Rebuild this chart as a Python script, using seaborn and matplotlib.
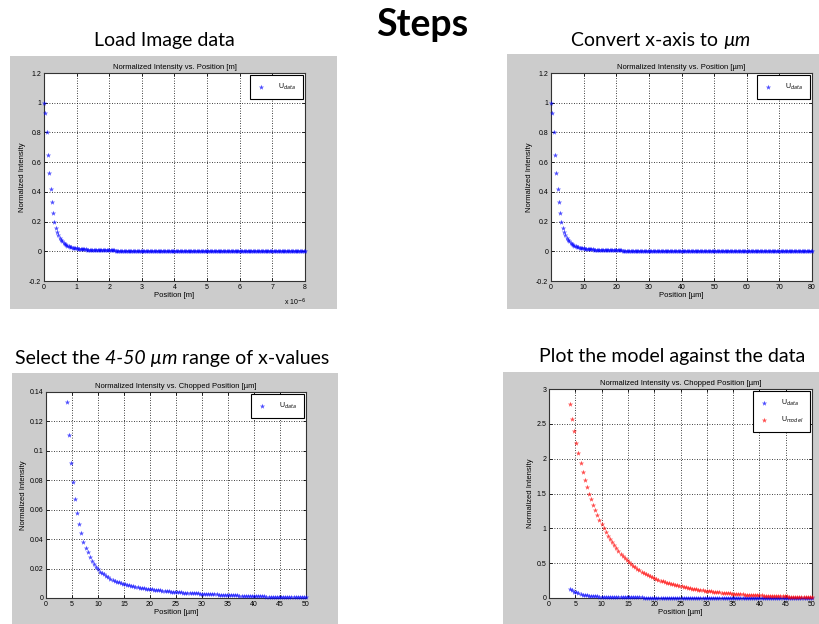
import numpy as np
import matplotlib
matplotlib.use("Agg")
import matplotlib.pyplot as plt
import seaborn as sns

# measured intensity, sampled every 0.4 um from 0 to 80 um
pos_um = np.linspace(0, 80, 201)
u_data = np.array([
    1.000, 0.930, 0.800, 0.650, 0.530, 0.420, 0.330, 0.260, 0.200, 0.160,
    0.133, 0.111, 0.092, 0.079, 0.067, 0.058, 0.050, 0.044, 0.038, 0.034,
    0.031, 0.028, 0.025, 0.023, 0.021, 0.020, 0.018, 0.017, 0.016, 0.015,
    0.0140, 0.0132, 0.0125, 0.0118, 0.0112, 0.0106, 0.0101, 0.0097, 0.0092, 0.0088,
    0.0085, 0.0082, 0.0079, 0.0076, 0.0073, 0.0071, 0.0068, 0.0066, 0.0064, 0.0062,
    0.0060, 0.0058, 0.0056, 0.0055, 0.0053, 0.0051, 0.0050, 0.0048, 0.0047, 0.0045,
    0.0044, 0.0043, 0.0042, 0.0040, 0.0039, 0.0038, 0.0037, 0.0036, 0.0035, 0.0034,
    0.0033, 0.0032, 0.0031, 0.0031, 0.0030, 0.0029, 0.0028, 0.0027, 0.0027, 0.0026,
    0.0025, 0.0026, 0.0024, 0.0023, 0.0022, 0.0022, 0.0021, 0.0020, 0.0020, 0.0019,
    0.0018, 0.0018, 0.0017, 0.0016, 0.0016, 0.0015, 0.0015, 0.0014, 0.0014, 0.0013,
    0.0013, 0.0012, 0.0012, 0.0011, 0.0011, 0.0011, 0.0010, 0.0010, 0.0009, 0.0009,
    0.0009, 0.0008, 0.0008, 0.0008, 0.0007, 0.0007, 0.0007, 0.0006, 0.0006, 0.0006,
    0.0006, 0.0005, 0.0005, 0.0005, 0.0005, 0.0004, 0.0004, 0.0004, 0.0004, 0.0004,
    0.0004, 0.0003, 0.0004, 0.0003, 0.0003, 0.0003, 0.0002, 0.0003, 0.0002, 0.0002,
    0.0002, 0.0002, 0.0003, 0.0002, 0.0002, 0.0001, 0.0002, 0.0002, 0.0001, 0.0002,
    0.0001, 0.0001, 0.0002, 0.0001, 0.0001, 0.0001, 0.0000, 0.0001, 0.0001, 0.0001,
    0.0001, 0.0000, 0.0001, 0.0001, 0.0000, 0.0001, 0.0000, 0.0000, 0.0001, 0.0000,
    0.0000, 0.0001, 0.0000, 0.0000, -0.0001, 0.0000, 0.0000, 0.0001, 0.0000, 0.0000,
    0.0000, 0.0000, 0.0000, -0.0001, 0.0000, 0.0000, 0.0000, 0.0000, 0.0001, 0.0000,
    0.0000, 0.0000, -0.0001, 0.0000, 0.0000, 0.0000, 0.0000, 0.0000, 0.0000, 0.0000,
    0.0000,
])

# model curve over the chopped range 4-50 um
model_pos = np.linspace(4, 50, 116)
u_model = np.array([
    2.78, 2.57, 2.40, 2.23, 2.08, 1.94, 1.81, 1.70, 1.60, 1.50,
    1.42, 1.34, 1.26, 1.19, 1.12, 1.06, 1.00, 0.945, 0.893, 0.844,
    0.798, 0.755, 0.714, 0.675, 0.638, 0.604, 0.572, 0.542, 0.513, 0.486,
    0.462, 0.440, 0.419, 0.399, 0.380, 0.362, 0.345, 0.329, 0.313, 0.298,
    0.284, 0.273, 0.262, 0.251, 0.241, 0.232, 0.222, 0.213, 0.205, 0.197,
    0.189, 0.181, 0.174, 0.167, 0.160, 0.154, 0.148, 0.142, 0.136, 0.131,
    0.125, 0.120, 0.116, 0.111, 0.107, 0.102, 0.098, 0.094, 0.091, 0.087,
    0.084, 0.080, 0.077, 0.074, 0.071, 0.068, 0.066, 0.063, 0.060, 0.058,
    0.056, 0.053, 0.051, 0.049, 0.047, 0.045, 0.044, 0.042, 0.040, 0.039,
    0.037, 0.036, 0.034, 0.033, 0.032, 0.030, 0.029, 0.028, 0.027, 0.026,
    0.025, 0.024, 0.023, 0.022, 0.021, 0.020, 0.019, 0.019, 0.018, 0.017,
    0.016, 0.016, 0.015, 0.014, 0.014, 0.013,
])

chop = (pos_um >= 3.99) & (pos_um <= 50.01)
pos_m = pos_um * 1e-7  # the slide's first panel is in metres (x 10^-6)

full_yticks = [-0.2, 0, 0.2, 0.4, 0.6, 0.8, 1, 1.2]
full_ylabels = ["-0.2", "0", "0.2", "0.4", "0.6", "0.8", "1", "1.2"]
chop_yticks = [0, 0.02, 0.04, 0.06, 0.08, 0.1, 0.12, 0.14]
chop_ylabels = ["0", "0.02", "0.04", "0.06", "0.08", "0.1", "0.12", "0.14"]
model_yticks = [0, 0.5, 1, 1.5, 2, 2.5, 3]
model_ylabels = ["0", "0.5", "1", "1.5", "2", "2.5", "3"]

plt.rcParams["font.family"] = ["Liberation Sans", "DejaVu Sans"]

W, H = 820, 624
fig = plt.figure(figsize=(W / 100, H / 100), dpi=100)


def box(l, t, r, b):
    return [l / W, 1 - b / H, (r - l) / W, (b - t) / H]


def gray_panel(l, t, r, b):
    bg = fig.add_axes(box(l, t, r, b))
    bg.set_facecolor("#cccccc")
    bg.set_xticks([])
    bg.set_yticks([])
    for sp in bg.spines.values():
        sp.set_visible(False)


def matlab_axes(ax, title, xlabel, xlim, xticks, ylim, yticks, ylabels):
    ax.set_xlim(xlim)
    ax.set_ylim(ylim)
    ax.set_xticks(xticks)
    ax.set_yticks(yticks)
    ax.set_yticklabels(ylabels)
    ax.grid(True, linestyle=(0, (1, 2)), color="black", linewidth=0.6)
    ax.tick_params(direction="in", length=2.5, width=0.6, labelsize=5, pad=2,
                   top=True, right=True)
    for sp in ax.spines.values():
        sp.set_linewidth(0.8)
        sp.set_color("#333333")
    ax.set_title(title, fontsize=5.5, pad=3)
    ax.set_xlabel(xlabel, fontsize=5.5, labelpad=1)
    ax.set_ylabel("Normalized Intensity", fontsize=5.5, labelpad=2)


def matlab_legend(ax):
    leg = ax.legend(loc="upper right", fancybox=False, edgecolor="black", framealpha=1,
                    fontsize=5, borderpad=1.0, handletextpad=1.8, borderaxespad=0.3,
                    handlelength=1.2, labelspacing=1.0)
    leg.get_frame().set_linewidth(0.8)


def dots(ax, x, y, color, label):
    sns.scatterplot(x=x, y=y, ax=ax, marker="*", s=16, color=color, alpha=0.7,
                    linewidth=0, label=label, clip_on=False, zorder=3)


# panel 1: raw data in metres
gray_panel(10, 56, 337, 309)
ax1 = fig.add_axes(box(44, 73, 305, 281))
dots(ax1, pos_m, u_data, "blue", "U$_{data}$")
matlab_axes(ax1, "Normalized Intensity vs. Position [m]", "Position [m]",
            (0, 8e-6), [i * 1e-6 for i in range(9)], (-0.2, 1.2), full_yticks, full_ylabels)
ax1.set_xticklabels([str(i) for i in range(9)])
matlab_legend(ax1)
fig.text(306 / W, 1 - 305 / H, "x 10$^{-6}$", fontsize=5, ha="right", va="baseline")

# panel 2: converted to micrometres
gray_panel(507, 54, 820, 309)
ax2 = fig.add_axes(box(551, 73, 812, 281))
dots(ax2, pos_um, u_data, "blue", "U$_{data}$")
matlab_axes(ax2, "Normalized Intensity vs. Position [µm]", "Position [µm]",
            (0, 80), list(range(0, 81, 10)), (-0.2, 1.2), full_yticks, full_ylabels)
matlab_legend(ax2)

# panel 3: chopped range
gray_panel(12, 373, 338, 624)
ax3 = fig.add_axes(box(46, 392, 306, 598))
dots(ax3, pos_um[chop], u_data[chop], "blue", "U$_{data}$")
matlab_axes(ax3, "Normalized Intensity vs. Chopped Position [µm]", "Position [µm]",
            (0, 50), list(range(0, 51, 5)), (0, 0.14), chop_yticks, chop_ylabels)
matlab_legend(ax3)

# panel 4: model against data
gray_panel(503, 372, 820, 624)
ax4 = fig.add_axes(box(549, 389, 812, 598))
dots(ax4, pos_um[chop], u_data[chop], "blue", "U$_{data}$")
dots(ax4, model_pos, u_model, "red", "U$_{model}$")
matlab_axes(ax4, "Normalized Intensity vs. Chopped Position [µm]", "Position [µm]",
            (0, 50), list(range(0, 51, 5)), (0, 3), model_yticks, model_ylabels)
matlab_legend(ax4)

# slide texts
fig.text(422 / W, 1 - 36 / H, "Steps", fontsize=27, fontweight="bold",
         family="Lato", ha="center", va="baseline")

renderer = fig.canvas.get_renderer()


def rich_text(cx, base, pieces, size=14):
    # draw upright/italic pieces side by side, centred on cx
    probe = fig.text(0, 0, "a a", fontsize=size, family="Lato")
    probe2 = fig.text(0, 0, "aa", fontsize=size, family="Lato")
    space = probe.get_window_extent(renderer).width - probe2.get_window_extent(renderer).width
    probe.remove()
    probe2.remove()
    texts, widths = [], []
    for s, style in pieces:
        t = fig.text(0, 1 - base / H, s, fontsize=size, family="Lato", style=style,
                     va="baseline", ha="left")
        texts.append(t)
        widths.append(t.get_window_extent(renderer).width)
    total = sum(widths) + space * (len(pieces) - 1)
    x = cx - total / 2
    for t, w in zip(texts, widths):
        t.set_x(x / W)
        x += w + space


rich_text(164, 46, [("Load Image data", "normal")])
rich_text(661, 46, [("Convert x-axis to", "normal"), ("µm", "italic")])
rich_text(172, 364, [("Select the", "normal"), ("4-50 µm", "italic"),
                     ("range of x-values", "normal")])
rich_text(672, 362, [("Plot the model against the data", "normal")])

fig.savefig("out.png", dpi=100)
